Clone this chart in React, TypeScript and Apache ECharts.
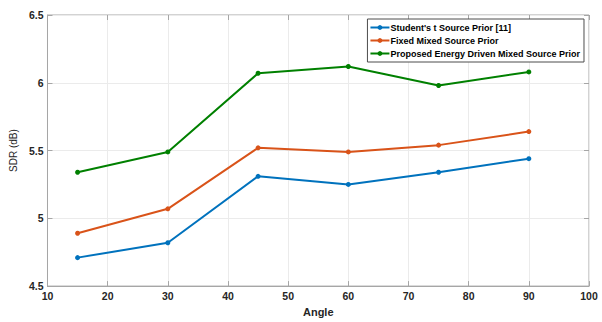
import React, { useEffect, useRef } from "react";
import * as echarts from "echarts";

const angles = [15, 30, 45, 60, 75, 90];
const studentT = [4.71, 4.82, 5.31, 5.25, 5.34, 5.44];
const fixedMixed = [4.89, 5.07, 5.52, 5.49, 5.54, 5.64];
const proposed = [5.34, 5.49, 6.07, 6.12, 5.98, 6.08];
const seriesNames = [
  "Student's t Source Prior [11]",
  "Fixed Mixed Source Prior",
  "Proposed Energy Driven Mixed Source Prior",
];
const colors = ["#0072BD", "#D95319", "#008000"];

export default function App() {
  const ref = useRef<HTMLDivElement>(null);
  useEffect(() => {
    if (!ref.current) return;
    const chart = echarts.init(ref.current, undefined, { renderer: "svg" });
    const font = "Arial, 'Liberation Sans', sans-serif";
    const mk = (name: string, vals: number[], color: string) => ({
      name,
      type: "line",
      data: angles.map((a, i) => [a, vals[i]]),
      symbol: "circle",
      symbolSize: 5,
      lineStyle: { width: 2, color },
      itemStyle: { color },
    });
    const axisLabel = { color: "#262626", fontWeight: "bold", fontSize: 10.5, fontFamily: font };
    chart.setOption({
      animation: false,
      backgroundColor: "#ffffff",
      grid: {
        left: 41,
        right: 13,
        top: 15,
        bottom: 29,
        show: true,
        borderColor: "#a6a6a6",
        borderWidth: 1,
      },
      legend: {
        orient: "vertical",
        right: 18,
        top: 19,
        padding: [3, 4, 3, 2],
        itemGap: 2,
        itemWidth: 19,
        itemHeight: 6,
        backgroundColor: "#ffffff",
        borderColor: "#4d4d4d",
        borderWidth: 1,
        textStyle: {
          fontSize: 9,
          lineHeight: 11,
          fontWeight: "bold",
          color: "#000",
          fontFamily: font,
          padding: [0, 0, 0, -4],
        },
        data: seriesNames,
      },
      xAxis: [
        {
          type: "value",
          min: 10,
          max: 100,
          interval: 10,
          name: "Angle",
          nameLocation: "middle",
          nameGap: 17,
          nameTextStyle: { fontWeight: "bold", fontSize: 11, color: "#262626", fontFamily: font },
          axisLine: { show: true, lineStyle: { color: "#a6a6a6" } },
          axisTick: { show: true, inside: true, length: 5, lineStyle: { color: "#a6a6a6" } },
          axisLabel: { ...axisLabel, margin: 4 },
          splitLine: { show: true, lineStyle: { color: "#ebebeb", width: 1 } },
        },
        {
          type: "value",
          position: "top",
          min: 10,
          max: 100,
          interval: 10,
          axisLine: { show: false },
          axisTick: { show: true, inside: true, length: 5, lineStyle: { color: "#a6a6a6" } },
          axisLabel: { show: false },
          splitLine: { show: false },
        },
      ],
      yAxis: [
        {
          type: "value",
          min: 4.5,
          max: 6.5,
          interval: 0.5,
          name: "SDR (dB)",
          nameLocation: "middle",
          nameGap: 18,
          nameRotate: 90,
          nameTextStyle: { fontSize: 10, color: "#262626", fontFamily: font },
          axisLine: { show: true, lineStyle: { color: "#a6a6a6" } },
          axisTick: { show: true, inside: true, length: 5, lineStyle: { color: "#a6a6a6" } },
          axisLabel: { ...axisLabel, margin: 4, formatter: (v: number) => String(v) },
          splitLine: { show: true, lineStyle: { color: "#ebebeb", width: 1 } },
        },
        {
          type: "value",
          position: "right",
          min: 4.5,
          max: 6.5,
          interval: 0.5,
          axisLine: { show: false },
          axisTick: { show: true, inside: true, length: 5, lineStyle: { color: "#a6a6a6" } },
          axisLabel: { show: false },
          splitLine: { show: false },
        },
      ],
      series: [
        mk(seriesNames[0], studentT, colors[0]),
        mk(seriesNames[1], fixedMixed, colors[1]),
        mk(seriesNames[2], proposed, colors[2]),
      ],
    });
    return () => chart.dispose();
  }, []);
  return (
    <div
      ref={ref}
      style={{ position: "absolute", left: 0, top: 0, width: 602, height: 322, background: "#fff" }}
    />
  );
}
